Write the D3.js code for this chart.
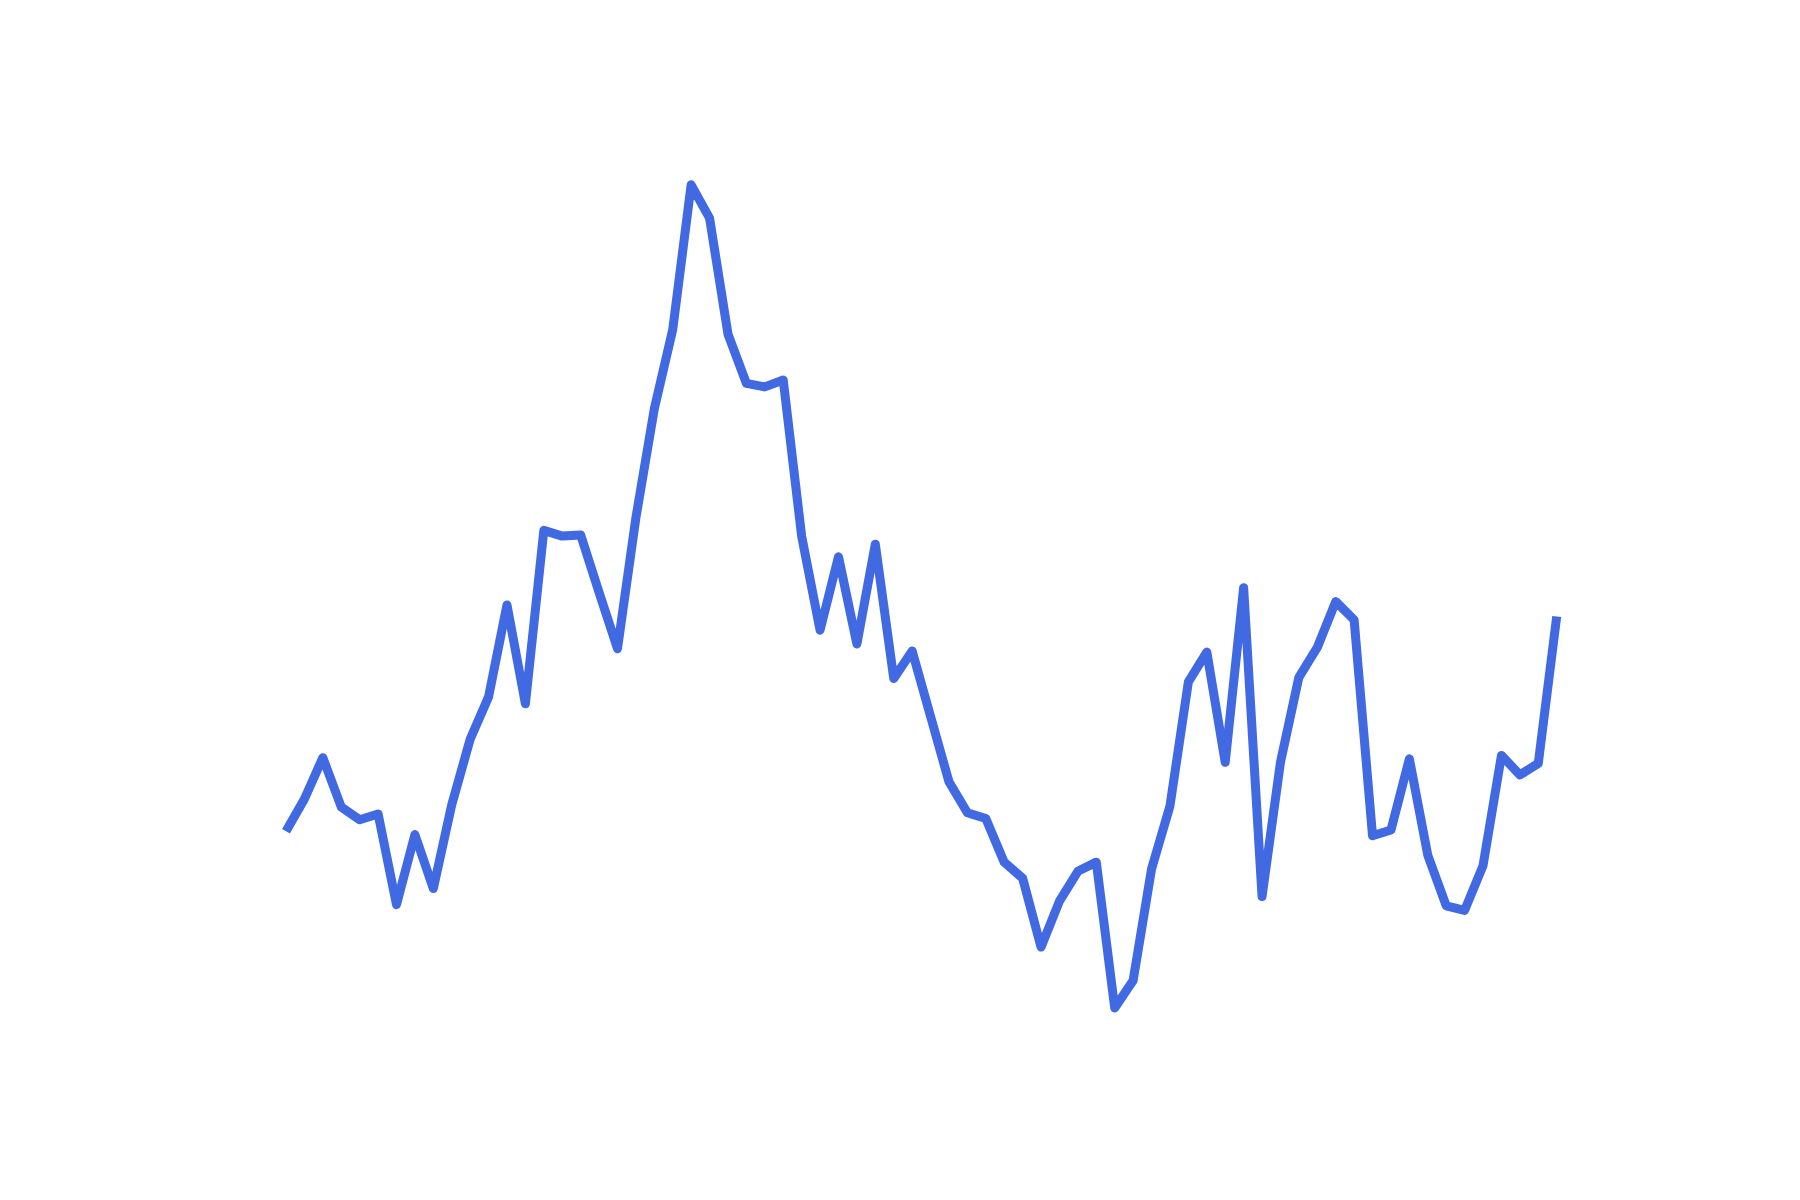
<!DOCTYPE html>
<html>
<head>
<meta charset="utf-8">
<script src="https://cdn.jsdelivr.net/npm/d3@7"></script>
<style>
  body { margin: 0; background: #fff; }
</style>
</head>
<body>
<script>
// values, one per step
var steps = d3.range(70);
var values = [
  27.6, 30.4, 34.0, 29.7, 28.6, 29.1, 21.2, 27.3, 22.6, 29.9,
  35.6, 39.3, 47.3, 38.7, 53.8, 53.3, 53.4, 48.4, 43.5, 54.9,
  64.4, 71.3, 83.9, 81.0, 70.9, 66.6, 66.3, 66.9, 53.3, 45.1,
  51.5, 43.9, 52.6, 40.9, 43.3, 37.6, 31.9, 29.2, 28.7, 24.9,
  23.5, 17.5, 21.5, 24.1, 24.9, 12.2, 14.6, 24.3, 29.8, 40.6,
  43.2, 33.6, 48.8, 21.9, 33.6, 41.0, 43.6, 47.6, 46.0, 27.2,
  27.7, 33.9, 25.5, 21.1, 20.7, 24.6, 34.2, 32.5, 33.5, 46.3
];

var width = 1800, height = 1200;

var svg = d3.select("body").append("svg")
    .attr("width", width)
    .attr("height", height);

var x = d3.scaleLinear()
    .domain([0, steps.length - 1])
    .range([286, 1556.7]);

var y = d3.scaleLinear()
    .domain([0, 100])
    .range([1148, 0]);

var line = d3.line()
    .x(function (d, i) { return x(steps[i]); })
    .y(function (d) { return y(d); });

svg.append("path")
    .datum(values)
    .attr("d", line)
    .attr("fill", "none")
    .attr("stroke", "#4169e1")
    .attr("stroke-width", 9)
    .attr("stroke-linejoin", "round")
    .attr("stroke-linecap", "butt");
</script>
</body>
</html>
